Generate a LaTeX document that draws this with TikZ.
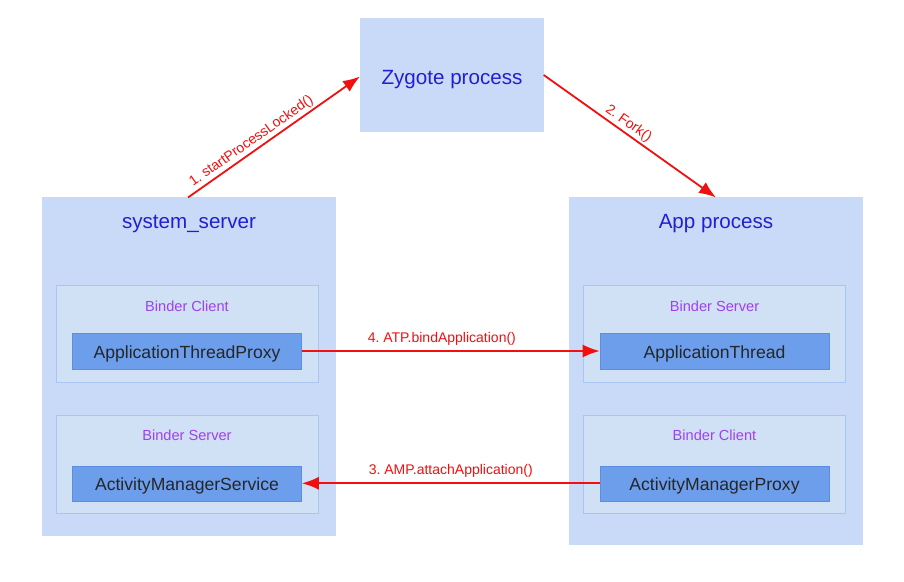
\documentclass[tikz,border=0pt]{standalone}
\usepackage{fontspec}
\setmainfont{Liberation Sans}
\frenchspacing
\usetikzlibrary{arrows.meta}
\definecolor{bigfill}{HTML}{C9DAF8}
\definecolor{innerfill}{HTML}{D0E0F5}
\definecolor{innerdraw}{HTML}{A9C5F0}
\definecolor{darkfill}{HTML}{6D9EEB}
\definecolor{darkdraw}{HTML}{5B8DE0}
\definecolor{titleblue}{HTML}{1F1FD6}
\definecolor{binderpurple}{HTML}{A040F0}
\definecolor{arrowred}{HTML}{F01010}
\begin{document}
\begin{tikzpicture}[x=1pt,y=-1pt,
  bigbox/.style={rectangle,fill=bigfill,draw=none,inner sep=0pt},
  innerbox/.style={rectangle,fill=innerfill,draw=innerdraw,line width=0.8pt,inner sep=0pt},
  darkbox/.style={rectangle,fill=darkfill,draw=darkdraw,line width=0.6pt,inner sep=0pt,font=\fontsize{17.6}{19}\selectfont,text=black!85,text height=14.2pt,text depth=0pt},
  titletext/.style={font=\fontsize{20.6}{22}\selectfont,text=titleblue,inner sep=0pt},
  bindertext/.style={font=\fontsize{14.6}{16}\selectfont,text=binderpurple,inner sep=0pt},
  redarrow/.style={draw=arrowred,line width=1.8pt,-{Latex[length=17pt,width=13pt]}},
  arrowlabel/.style={font=\fontsize{14}{15}\selectfont,text=arrowred,inner sep=2pt}
]
\useasboundingbox (0,0) rectangle (904,581);
\fill[white] (0,0) rectangle (904,581);

% Zygote
\node[bigbox,minimum width=184pt,minimum height=114pt] (zyg) at (452,75.3) {};
\node[titletext] (zygt) at (452,79.5) {Zygote process};

% system_server
\node[bigbox,minimum width=294pt,minimum height=339pt] (sys) at (189,366.5) {};
\node[titletext] (syst) at (189,224) {system\_server};
\node[innerbox,minimum width=262pt,minimum height=97pt] (sysbc) at (187,333.5) {};
\node[bindertext] (sysbct) at (187,306) {Binder Client};
\node[darkbox,minimum width=229pt,minimum height=36pt] (atp) at (187,351) {ApplicationThreadProxy};
\node[innerbox,minimum width=262pt,minimum height=98pt] (sysbs) at (187,464) {};
\node[bindertext] (sysbst) at (187,435) {Binder Server};
\node[darkbox,minimum width=229pt,minimum height=35pt] (ams) at (187,483.3) {ActivityManagerService};

% App process
\node[bigbox,minimum width=294pt,minimum height=348pt] (app) at (716,371) {};
\node[titletext] (appt) at (716,224) {App process};
\node[innerbox,minimum width=262pt,minimum height=97pt] (appbs) at (714.5,333.5) {};
\node[bindertext] (appbst) at (714.5,306) {Binder Server};
\node[darkbox,minimum width=229pt,minimum height=36pt] (at) at (714.5,351) {ApplicationThread};
\node[innerbox,minimum width=262pt,minimum height=98pt] (appbc) at (714.5,464) {};
\node[bindertext] (appbct) at (714.5,435) {Binder Client};
\node[darkbox,minimum width=229pt,minimum height=35pt] (amp) at (714.5,483.3) {ActivityManagerProxy};

% arrows
\coordinate (a1s) at (188,197.5);
\coordinate (a1e) at (360,76.5);
\coordinate (a2s) at (543.7,75);
\coordinate (a2e) at (716,197.5);
\draw[redarrow] (a1s) -- node[arrowlabel,sloped,above,pos=0.4] {1. startProcessLocked()} (a1e);
\draw[redarrow] (a2s) -- node[arrowlabel,sloped,above,pos=0.46] {2. Fork()} (a2e);
\draw[redarrow] (atp.east) -- node[arrowlabel,above=3pt,pos=0.47] {4. ATP.bindApplication()} (at.west);
\draw[redarrow] (amp.west) -- node[arrowlabel,above=3pt,pos=0.5] {3. AMP.attachApplication()} (ams.east);
\end{tikzpicture}
\end{document}
